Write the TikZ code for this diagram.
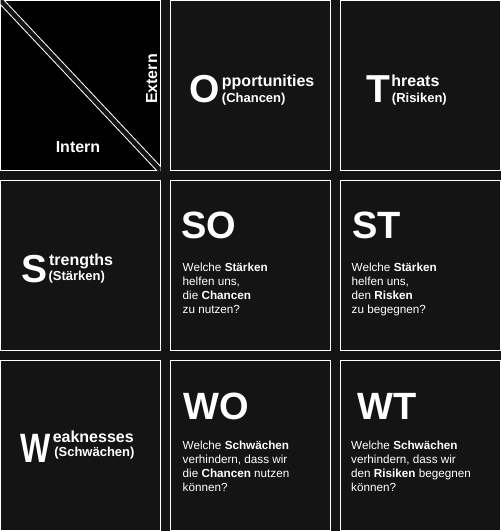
\documentclass[tikz,border=0pt]{standalone}
\usepackage{fontspec}
\setmainfont{Liberation Sans}
\usetikzlibrary{positioning}
\definecolor{bgc}{HTML}{141414}

\tikzset{
  cell/.style={draw=white, line width=1pt, fill=bgc, minimum width=160, minimum height=170, inner sep=0pt, outer sep=0pt},
  diag/.style={draw=white, line width=1pt, double=bgc, double distance=4.5pt},
  bigl/.style={text=white, inner sep=0pt, anchor=base west, font=\bfseries\fontsize{39}{39}\selectfont},
  combo/.style={text=white, inner sep=0pt, anchor=base west, font=\bfseries\fontsize{38}{38}\selectfont},
  ttl/.style={text=white, inner sep=0pt, font=\bfseries\fontsize{16}{16}\selectfont},
  sub/.style={text=white, inner sep=0pt, font=\bfseries\fontsize{13}{13}\selectfont},
  body/.style={text=white, inner sep=0pt, anchor=base west, align=left, font=\fontsize{11.7}{14}\selectfont},
}

\begin{document}
\begin{tikzpicture}[x=1pt,y=-1pt]
\fill[bgc] (0,0) rectangle (501,531);
\useasboundingbox (0,0) rectangle (501,531);
% grid
\node[cell, fill=black] (ie) at (80.5,85.5) {};
\node[cell] (opp) at (250.5,85.5) {};
\node[cell] (thr) at (420.5,85.5) {};
\node[cell] (str) at (80.5,265) {};
\node[cell] (so) at (250.5,265) {};
\node[cell] (st) at (420.5,265) {};
\node[cell] (wea) at (80.5,445) {};
\node[cell] (wo) at (250.5,445) {};
\node[cell] (wt) at (420.5,445) {};

% corner
\begin{scope}
\clip (ie.north west) rectangle (ie.south east);
\draw[diag] (ie.north west) -- (ie.south east);
\end{scope}
\node[ttl, anchor=base] (int) at (78,152) {Intern};
\node[ttl, anchor=base, rotate=90] (ext) at (157,79) {Extern};

% headers
\node[bigl] (oppL) at (189.5,102.5) {O};
\node[sub, base right=1.5pt of oppL] (oppS) {(Chancen)};
\node[ttl, base right=1.5pt of oppL, yshift=16] (oppT) {pportunities};

\node[bigl] (thrL) at (366,102) {T};
\node[sub, base right=1.5pt of thrL] (thrS) {(Risiken)};
\node[ttl, base right=1pt of thrL, yshift=16] (thrT) {hreats};

\node[bigl] (strL) at (21,282) {S};
\node[sub, base right=1pt of strL, yshift=1.5] (strS) {(Stärken)};
\node[ttl, base right=1.5pt of strL, yshift=17] (strT) {trengths};

\node[bigl] (weaL) at (20.5,462) {\scalebox{0.78}[1]{\fontsize{41}{41}\selectfont W}};
\node[sub, base right=3pt of weaL, yshift=5.5] (weaS) {(Schwächen)};
\node[ttl, base right=1.5pt of weaL, yshift=20] (weaT) {eaknesses};

% strategies
\node[combo] (soL) at (181,238) {SO};
\node[body] (soQ) at (182.5,313.7) {Welche \textbf{Stärken}\\helfen uns,\\die \textbf{Chancen}\\zu nutzen?};

\node[combo] (stL) at (352,238) {ST};
\node[body] (stQ) at (351.5,313.7) {Welche \textbf{Stärken}\\helfen uns,\\den \textbf{Risken}\\zu begegnen?};

\node[combo] (woL) at (183,419) {WO};
\node[body] (woQ) at (182.5,491) {Welche \textbf{Schwächen}\\verhindern, dass wir\\die \textbf{Chancen} nutzen\\können?};

\node[combo] (wtL) at (357,419) {WT};
\node[body] (wtQ) at (351,491) {Welche \textbf{Schwächen}\\verhindern, dass wir\\den \textbf{Risiken} begegnen\\können?};
\end{tikzpicture}
\end{document}
